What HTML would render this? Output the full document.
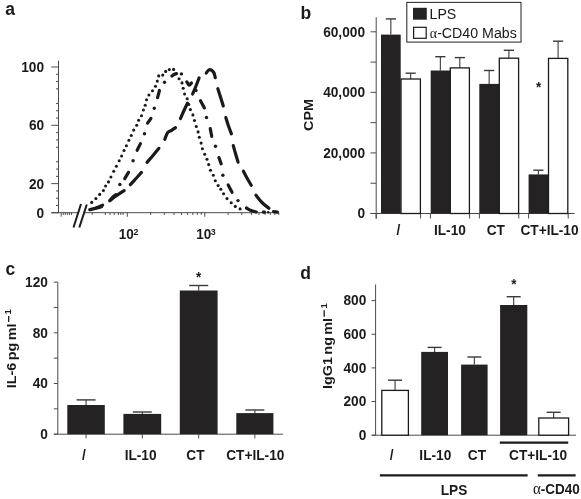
<!DOCTYPE html>
<html><head><meta charset="utf-8"><style>
html,body{margin:0;padding:0;background:#fff;}
body{width:581px;height:499px;overflow:hidden;}
svg{display:block;will-change:transform;}
</style></head><body>
<svg width="581" height="499" viewBox="0 0 581 499">
<rect width="581" height="499" fill="#fff"/>
<text transform="translate(5.20,14.80) scale(1,1.05)" font-family='"Liberation Sans", sans-serif' font-size="17.5" font-weight="bold" text-anchor="start" fill="#1a1a1a" >a</text>
<line x1="58.50" y1="60.60" x2="58.50" y2="213.20" stroke="#4a4a4a" stroke-width="1.0" />
<line x1="51.30" y1="212.80" x2="58.50" y2="212.80" stroke="#4a4a4a" stroke-width="1.0" />
<line x1="51.30" y1="183.64" x2="58.50" y2="183.64" stroke="#4a4a4a" stroke-width="1.0" />
<line x1="51.30" y1="125.32" x2="58.50" y2="125.32" stroke="#4a4a4a" stroke-width="1.0" />
<line x1="51.30" y1="67.00" x2="58.50" y2="67.00" stroke="#4a4a4a" stroke-width="1.0" />
<line x1="56.00" y1="205.51" x2="58.50" y2="205.51" stroke="#4a4a4a" stroke-width="1.0" />
<line x1="56.00" y1="198.22" x2="58.50" y2="198.22" stroke="#4a4a4a" stroke-width="1.0" />
<line x1="56.00" y1="190.93" x2="58.50" y2="190.93" stroke="#4a4a4a" stroke-width="1.0" />
<line x1="56.00" y1="176.35" x2="58.50" y2="176.35" stroke="#4a4a4a" stroke-width="1.0" />
<line x1="56.00" y1="169.06" x2="58.50" y2="169.06" stroke="#4a4a4a" stroke-width="1.0" />
<line x1="56.00" y1="161.77" x2="58.50" y2="161.77" stroke="#4a4a4a" stroke-width="1.0" />
<line x1="56.00" y1="147.19" x2="58.50" y2="147.19" stroke="#4a4a4a" stroke-width="1.0" />
<line x1="56.00" y1="139.90" x2="58.50" y2="139.90" stroke="#4a4a4a" stroke-width="1.0" />
<line x1="56.00" y1="132.61" x2="58.50" y2="132.61" stroke="#4a4a4a" stroke-width="1.0" />
<line x1="56.00" y1="118.03" x2="58.50" y2="118.03" stroke="#4a4a4a" stroke-width="1.0" />
<line x1="56.00" y1="110.74" x2="58.50" y2="110.74" stroke="#4a4a4a" stroke-width="1.0" />
<line x1="56.00" y1="103.45" x2="58.50" y2="103.45" stroke="#4a4a4a" stroke-width="1.0" />
<line x1="56.00" y1="88.87" x2="58.50" y2="88.87" stroke="#4a4a4a" stroke-width="1.0" />
<line x1="56.00" y1="81.58" x2="58.50" y2="81.58" stroke="#4a4a4a" stroke-width="1.0" />
<line x1="56.00" y1="74.29" x2="58.50" y2="74.29" stroke="#4a4a4a" stroke-width="1.0" />
<text transform="translate(44.10,217.90) scale(1,1.05)" font-family='"Liberation Sans", sans-serif' font-size="13.7" font-weight="bold" text-anchor="end" fill="#1a1a1a" >0</text>
<text transform="translate(44.10,188.74) scale(1,1.05)" font-family='"Liberation Sans", sans-serif' font-size="13.7" font-weight="bold" text-anchor="end" fill="#1a1a1a" >20</text>
<text transform="translate(44.10,130.42) scale(1,1.05)" font-family='"Liberation Sans", sans-serif' font-size="13.7" font-weight="bold" text-anchor="end" fill="#1a1a1a" >60</text>
<text transform="translate(44.10,72.10) scale(1,1.05)" font-family='"Liberation Sans", sans-serif' font-size="13.7" font-weight="bold" text-anchor="end" fill="#1a1a1a" >100</text>
<line x1="51.30" y1="212.70" x2="279.00" y2="212.70" stroke="#4a4a4a" stroke-width="1.0" />
<line x1="61.20" y1="212.70" x2="61.20" y2="216.70" stroke="#4a4a4a" stroke-width="1.0" />
<line x1="127.30" y1="212.70" x2="127.30" y2="216.70" stroke="#4a4a4a" stroke-width="1.0" />
<line x1="204.80" y1="212.70" x2="204.80" y2="216.70" stroke="#4a4a4a" stroke-width="1.0" />
<line x1="63.30" y1="212.70" x2="63.30" y2="214.90" stroke="#4a4a4a" stroke-width="1.0" />
<line x1="65.30" y1="212.70" x2="65.30" y2="214.90" stroke="#4a4a4a" stroke-width="1.0" />
<line x1="67.40" y1="212.70" x2="67.40" y2="214.90" stroke="#4a4a4a" stroke-width="1.0" />
<line x1="69.50" y1="212.70" x2="69.50" y2="214.90" stroke="#4a4a4a" stroke-width="1.0" />
<line x1="71.50" y1="212.70" x2="71.50" y2="214.90" stroke="#4a4a4a" stroke-width="1.0" />
<line x1="92.20" y1="212.70" x2="92.20" y2="214.90" stroke="#4a4a4a" stroke-width="1.0" />
<line x1="105.30" y1="212.70" x2="105.30" y2="214.90" stroke="#4a4a4a" stroke-width="1.0" />
<line x1="110.00" y1="212.70" x2="110.00" y2="214.90" stroke="#4a4a4a" stroke-width="1.0" />
<line x1="114.20" y1="212.70" x2="114.20" y2="214.90" stroke="#4a4a4a" stroke-width="1.0" />
<line x1="118.40" y1="212.70" x2="118.40" y2="214.90" stroke="#4a4a4a" stroke-width="1.0" />
<line x1="120.80" y1="212.70" x2="120.80" y2="214.90" stroke="#4a4a4a" stroke-width="1.0" />
<line x1="123.10" y1="212.70" x2="123.10" y2="214.90" stroke="#4a4a4a" stroke-width="1.0" />
<line x1="150.63" y1="212.70" x2="150.63" y2="214.90" stroke="#4a4a4a" stroke-width="1.0" />
<line x1="228.13" y1="212.70" x2="228.13" y2="214.90" stroke="#4a4a4a" stroke-width="1.0" />
<line x1="164.28" y1="212.70" x2="164.28" y2="214.90" stroke="#4a4a4a" stroke-width="1.0" />
<line x1="241.78" y1="212.70" x2="241.78" y2="214.90" stroke="#4a4a4a" stroke-width="1.0" />
<line x1="173.96" y1="212.70" x2="173.96" y2="214.90" stroke="#4a4a4a" stroke-width="1.0" />
<line x1="251.46" y1="212.70" x2="251.46" y2="214.90" stroke="#4a4a4a" stroke-width="1.0" />
<line x1="181.47" y1="212.70" x2="181.47" y2="214.90" stroke="#4a4a4a" stroke-width="1.0" />
<line x1="258.97" y1="212.70" x2="258.97" y2="214.90" stroke="#4a4a4a" stroke-width="1.0" />
<line x1="187.61" y1="212.70" x2="187.61" y2="214.90" stroke="#4a4a4a" stroke-width="1.0" />
<line x1="265.11" y1="212.70" x2="265.11" y2="214.90" stroke="#4a4a4a" stroke-width="1.0" />
<line x1="192.80" y1="212.70" x2="192.80" y2="214.90" stroke="#4a4a4a" stroke-width="1.0" />
<line x1="270.30" y1="212.70" x2="270.30" y2="214.90" stroke="#4a4a4a" stroke-width="1.0" />
<line x1="197.29" y1="212.70" x2="197.29" y2="214.90" stroke="#4a4a4a" stroke-width="1.0" />
<line x1="274.79" y1="212.70" x2="274.79" y2="214.90" stroke="#4a4a4a" stroke-width="1.0" />
<line x1="201.25" y1="212.70" x2="201.25" y2="214.90" stroke="#4a4a4a" stroke-width="1.0" />
<line x1="278.75" y1="212.70" x2="278.75" y2="214.90" stroke="#4a4a4a" stroke-width="1.0" />
<polygon points="81,204 86.5,204.5 79,227 73.5,227" fill="#fff"/>
<line x1="81.00" y1="204.00" x2="73.50" y2="227.50" stroke="#1a1a1a" stroke-width="2.0" />
<line x1="86.80" y1="204.50" x2="79.30" y2="227.50" stroke="#1a1a1a" stroke-width="2.0" />
<text transform="translate(118.80,238.80) scale(1,1.05)" font-family='"Liberation Sans", sans-serif' font-size="13.5" font-weight="bold" text-anchor="start" fill="#1a1a1a" >10</text>
<text transform="translate(133.40,235.00) scale(1,1.05)" font-family='"Liberation Sans", sans-serif' font-size="8.8" font-weight="bold" text-anchor="start" fill="#1a1a1a" >2</text>
<text transform="translate(196.20,238.80) scale(1,1.05)" font-family='"Liberation Sans", sans-serif' font-size="13.5" font-weight="bold" text-anchor="start" fill="#1a1a1a" >10</text>
<text transform="translate(210.70,235.00) scale(1,1.05)" font-family='"Liberation Sans", sans-serif' font-size="8.8" font-weight="bold" text-anchor="start" fill="#1a1a1a" >3</text>
<circle cx="91.70" cy="202.40" r="1.55" fill="#1a1a1a"/>
<circle cx="95.90" cy="198.60" r="1.55" fill="#1a1a1a"/>
<circle cx="99.70" cy="194.40" r="1.55" fill="#1a1a1a"/>
<circle cx="103.40" cy="190.50" r="1.55" fill="#1a1a1a"/>
<circle cx="105.60" cy="186.00" r="1.55" fill="#1a1a1a"/>
<circle cx="108.50" cy="181.90" r="1.55" fill="#1a1a1a"/>
<circle cx="110.90" cy="177.00" r="1.55" fill="#1a1a1a"/>
<circle cx="113.70" cy="171.20" r="1.55" fill="#1a1a1a"/>
<circle cx="116.40" cy="166.30" r="1.55" fill="#1a1a1a"/>
<circle cx="119.20" cy="160.80" r="1.55" fill="#1a1a1a"/>
<circle cx="121.60" cy="156.00" r="1.55" fill="#1a1a1a"/>
<circle cx="124.00" cy="150.50" r="1.55" fill="#1a1a1a"/>
<circle cx="126.40" cy="145.70" r="1.55" fill="#1a1a1a"/>
<circle cx="128.90" cy="140.30" r="1.55" fill="#1a1a1a"/>
<circle cx="131.30" cy="135.50" r="1.55" fill="#1a1a1a"/>
<circle cx="133.70" cy="130.10" r="1.55" fill="#1a1a1a"/>
<circle cx="136.70" cy="125.20" r="1.55" fill="#1a1a1a"/>
<circle cx="138.60" cy="120.20" r="1.55" fill="#1a1a1a"/>
<circle cx="141.50" cy="115.80" r="1.55" fill="#1a1a1a"/>
<circle cx="143.40" cy="110.00" r="1.55" fill="#1a1a1a"/>
<circle cx="145.20" cy="105.20" r="1.55" fill="#1a1a1a"/>
<circle cx="146.60" cy="99.80" r="1.55" fill="#1a1a1a"/>
<circle cx="148.90" cy="95.00" r="1.55" fill="#1a1a1a"/>
<circle cx="152.50" cy="90.70" r="1.55" fill="#1a1a1a"/>
<circle cx="155.50" cy="86.30" r="1.55" fill="#1a1a1a"/>
<circle cx="157.30" cy="81.10" r="1.55" fill="#1a1a1a"/>
<circle cx="158.70" cy="75.90" r="1.55" fill="#1a1a1a"/>
<circle cx="162.70" cy="75.10" r="1.55" fill="#1a1a1a"/>
<circle cx="165.70" cy="71.40" r="1.55" fill="#1a1a1a"/>
<circle cx="169.30" cy="69.60" r="1.55" fill="#1a1a1a"/>
<circle cx="173.60" cy="69.40" r="1.55" fill="#1a1a1a"/>
<circle cx="176.60" cy="73.60" r="1.55" fill="#1a1a1a"/>
<circle cx="179.00" cy="78.70" r="1.55" fill="#1a1a1a"/>
<circle cx="182.00" cy="82.90" r="1.55" fill="#1a1a1a"/>
<circle cx="183.20" cy="88.30" r="1.55" fill="#1a1a1a"/>
<circle cx="184.60" cy="94.00" r="1.55" fill="#1a1a1a"/>
<circle cx="187.20" cy="98.70" r="1.55" fill="#1a1a1a"/>
<circle cx="188.70" cy="104.40" r="1.55" fill="#1a1a1a"/>
<circle cx="190.40" cy="109.60" r="1.55" fill="#1a1a1a"/>
<circle cx="192.90" cy="114.90" r="1.55" fill="#1a1a1a"/>
<circle cx="194.50" cy="120.50" r="1.55" fill="#1a1a1a"/>
<circle cx="196.30" cy="126.50" r="1.55" fill="#1a1a1a"/>
<circle cx="198.10" cy="131.90" r="1.55" fill="#1a1a1a"/>
<circle cx="199.30" cy="137.30" r="1.55" fill="#1a1a1a"/>
<circle cx="201.10" cy="143.10" r="1.55" fill="#1a1a1a"/>
<circle cx="202.40" cy="148.70" r="1.55" fill="#1a1a1a"/>
<circle cx="204.70" cy="154.20" r="1.55" fill="#1a1a1a"/>
<circle cx="207.00" cy="159.20" r="1.55" fill="#1a1a1a"/>
<circle cx="208.70" cy="164.60" r="1.55" fill="#1a1a1a"/>
<circle cx="210.50" cy="170.30" r="1.55" fill="#1a1a1a"/>
<circle cx="213.30" cy="175.20" r="1.55" fill="#1a1a1a"/>
<circle cx="215.30" cy="180.70" r="1.55" fill="#1a1a1a"/>
<circle cx="218.10" cy="185.50" r="1.55" fill="#1a1a1a"/>
<circle cx="220.80" cy="189.20" r="1.55" fill="#1a1a1a"/>
<circle cx="223.60" cy="193.70" r="1.55" fill="#1a1a1a"/>
<circle cx="227.00" cy="198.60" r="1.55" fill="#1a1a1a"/>
<circle cx="231.20" cy="202.70" r="1.55" fill="#1a1a1a"/>
<circle cx="235.30" cy="206.40" r="1.55" fill="#1a1a1a"/>
<circle cx="240.10" cy="208.90" r="1.55" fill="#1a1a1a"/>
<path d="M89.77,209.65 C90.64,209.44 93.04,208.89 95.00,208.40 C96.96,207.91 100.45,206.97 101.54,206.68" fill="none" stroke="#1a1a1a" stroke-width="3.2" stroke-linecap="round" stroke-linejoin="round"/>
<path d="M109.68,200.74 C110.73,199.95 113.58,197.69 116.00,196.00 C118.42,194.31 122.82,191.50 124.18,190.61" fill="none" stroke="#1a1a1a" stroke-width="3.2" stroke-linecap="round" stroke-linejoin="round"/>
<path d="M130.34,184.69 C131.29,183.66 134.15,180.54 136.00,178.50 C137.85,176.46 140.55,173.43 141.46,172.42" fill="none" stroke="#1a1a1a" stroke-width="3.2" stroke-linecap="round" stroke-linejoin="round"/>
<path d="M147.02,162.37 C148.02,161.23 151.02,157.84 153.00,155.50 C154.98,153.16 157.92,149.54 158.90,148.35" fill="none" stroke="#1a1a1a" stroke-width="3.2" stroke-linecap="round" stroke-linejoin="round"/>
<path d="M164.82,139.28 C165.29,138.17 166.47,134.10 167.60,132.60 C168.73,131.10 170.28,131.13 171.60,130.30 C172.92,129.47 174.84,128.07 175.49,127.62" fill="none" stroke="#1a1a1a" stroke-width="3.2" stroke-linecap="round" stroke-linejoin="round"/>
<path d="M180.45,118.49 C181.04,117.16 182.82,113.05 184.00,110.50 C185.18,107.95 186.94,104.41 187.52,103.19" fill="none" stroke="#1a1a1a" stroke-width="3.2" stroke-linecap="round" stroke-linejoin="round"/>
<path d="M192.63,93.99 C193.19,92.66 194.92,88.68 196.00,86.00 C197.08,83.32 198.59,79.27 199.11,77.93" fill="none" stroke="#1a1a1a" stroke-width="3.2" stroke-linecap="round" stroke-linejoin="round"/>
<path d="M206.26,73.00 C206.80,72.44 208.28,69.73 209.50,69.60 C210.72,69.47 212.64,70.86 213.60,72.20 C214.56,73.54 215.00,76.74 215.28,77.65" fill="none" stroke="#1a1a1a" stroke-width="3.2" stroke-linecap="round" stroke-linejoin="round"/>
<path d="M217.84,88.75 C218.28,90.12 219.59,94.13 220.50,97.00 C221.41,99.87 222.81,104.46 223.27,105.95" fill="none" stroke="#1a1a1a" stroke-width="3.2" stroke-linecap="round" stroke-linejoin="round"/>
<path d="M225.83,117.55 C226.28,118.96 227.57,123.28 228.50,126.00 C229.43,128.72 230.93,132.56 231.42,133.87" fill="none" stroke="#1a1a1a" stroke-width="3.2" stroke-linecap="round" stroke-linejoin="round"/>
<path d="M233.29,145.56 C233.66,146.88 234.70,150.74 235.50,153.50 C236.30,156.26 237.65,160.71 238.08,162.15" fill="none" stroke="#1a1a1a" stroke-width="3.2" stroke-linecap="round" stroke-linejoin="round"/>
<path d="M243.42,171.27 C244.01,172.39 245.70,175.67 247.00,178.00 C248.30,180.33 250.54,184.04 251.24,185.25" fill="none" stroke="#1a1a1a" stroke-width="3.2" stroke-linecap="round" stroke-linejoin="round"/>
<path d="M256.00,195.25 C257.00,196.46 259.86,200.34 262.00,202.50 C264.14,204.66 267.71,207.25 268.85,208.20" fill="none" stroke="#1a1a1a" stroke-width="3.2" stroke-linecap="round" stroke-linejoin="round"/>
<path d="M273.59,211.55 L277.41,212.05" fill="none" stroke="#1a1a1a" stroke-width="3.2" stroke-linecap="round" stroke-linejoin="round"/>
<path d="M263.30,212.10 L264.50,212.20" fill="none" stroke="#1a1a1a" stroke-width="3.2" stroke-linecap="round" stroke-linejoin="round"/>
<path d="M96.92,207.61 L102.58,205.19" fill="none" stroke="#1a1a1a" stroke-width="3.2" stroke-linecap="round" stroke-linejoin="round"/>
<path d="M110.18,200.06 C110.65,199.55 112.07,197.90 113.00,197.00 C113.93,196.10 115.28,195.04 115.74,194.65" fill="none" stroke="#1a1a1a" stroke-width="3.2" stroke-linecap="round" stroke-linejoin="round"/>
<path d="M124.72,178.65 L128.48,172.45" fill="none" stroke="#1a1a1a" stroke-width="3.2" stroke-linecap="round" stroke-linejoin="round"/>
<path d="M137.15,150.21 L140.45,143.59" fill="none" stroke="#1a1a1a" stroke-width="3.2" stroke-linecap="round" stroke-linejoin="round"/>
<path d="M147.57,123.18 L150.93,118.32" fill="none" stroke="#1a1a1a" stroke-width="3.2" stroke-linecap="round" stroke-linejoin="round"/>
<path d="M157.56,97.63 L159.44,90.47" fill="none" stroke="#1a1a1a" stroke-width="3.2" stroke-linecap="round" stroke-linejoin="round"/>
<path d="M171.91,76.01 C172.26,75.76 173.34,74.87 174.00,74.50 C174.66,74.13 175.56,73.89 175.87,73.77" fill="none" stroke="#1a1a1a" stroke-width="3.2" stroke-linecap="round" stroke-linejoin="round"/>
<path d="M186.80,81.90 C187.20,82.43 188.42,84.92 189.20,85.10 C189.98,85.28 191.09,83.34 191.47,82.98" fill="none" stroke="#1a1a1a" stroke-width="3.2" stroke-linecap="round" stroke-linejoin="round"/>
<path d="M200.48,100.68 L204.42,107.92" fill="none" stroke="#1a1a1a" stroke-width="3.2" stroke-linecap="round" stroke-linejoin="round"/>
<path d="M210.28,128.68 L211.72,136.32" fill="none" stroke="#1a1a1a" stroke-width="3.2" stroke-linecap="round" stroke-linejoin="round"/>
<path d="M218.93,157.54 L221.17,163.86" fill="none" stroke="#1a1a1a" stroke-width="3.2" stroke-linecap="round" stroke-linejoin="round"/>
<path d="M228.17,184.98 L232.03,192.22" fill="none" stroke="#1a1a1a" stroke-width="3.2" stroke-linecap="round" stroke-linejoin="round"/>
<path d="M246.47,207.99 C247.23,208.40 249.36,209.84 251.00,210.50 C252.64,211.16 255.45,211.70 256.33,211.94" fill="none" stroke="#1a1a1a" stroke-width="3.2" stroke-linecap="round" stroke-linejoin="round"/>
<circle cx="119.90" cy="184.50" r="1.7" fill="#1a1a1a"/>
<circle cx="133.10" cy="160.80" r="1.7" fill="#1a1a1a"/>
<circle cx="144.50" cy="133.70" r="1.7" fill="#1a1a1a"/>
<circle cx="154.30" cy="108.20" r="1.7" fill="#1a1a1a"/>
<circle cx="164.50" cy="82.30" r="1.7" fill="#1a1a1a"/>
<circle cx="181.40" cy="73.90" r="1.7" fill="#1a1a1a"/>
<circle cx="196.00" cy="90.50" r="1.7" fill="#1a1a1a"/>
<circle cx="206.50" cy="117.50" r="1.7" fill="#1a1a1a"/>
<circle cx="215.50" cy="146.30" r="1.7" fill="#1a1a1a"/>
<circle cx="222.90" cy="175.20" r="1.7" fill="#1a1a1a"/>
<circle cx="238.00" cy="200.60" r="1.7" fill="#1a1a1a"/>
<circle cx="268.20" cy="212.30" r="1.2" fill="#1a1a1a"/>
<text transform="translate(300.60,19.00) scale(1,1.05)" font-family='"Liberation Sans", sans-serif' font-size="17.5" font-weight="bold" text-anchor="start" fill="#1a1a1a" >b</text>
<line x1="376.20" y1="17.20" x2="376.20" y2="218.80" stroke="#4a4a4a" stroke-width="1.0" />
<line x1="370.50" y1="213.50" x2="376.20" y2="213.50" stroke="#4a4a4a" stroke-width="1.0" />
<line x1="370.50" y1="152.93" x2="376.20" y2="152.93" stroke="#4a4a4a" stroke-width="1.0" />
<line x1="370.50" y1="92.37" x2="376.20" y2="92.37" stroke="#4a4a4a" stroke-width="1.0" />
<line x1="370.50" y1="31.80" x2="376.20" y2="31.80" stroke="#4a4a4a" stroke-width="1.0" />
<line x1="370.50" y1="183.22" x2="376.20" y2="183.22" stroke="#4a4a4a" stroke-width="1.0" />
<line x1="370.50" y1="122.65" x2="376.20" y2="122.65" stroke="#4a4a4a" stroke-width="1.0" />
<line x1="370.50" y1="62.08" x2="376.20" y2="62.08" stroke="#4a4a4a" stroke-width="1.0" />
<text transform="translate(365.00,218.30) scale(1,1.05)" font-family='"Liberation Sans", sans-serif' font-size="13.7" font-weight="bold" text-anchor="end" fill="#1a1a1a" >0</text>
<text transform="translate(365.00,157.73) scale(1,1.05)" font-family='"Liberation Sans", sans-serif' font-size="13.7" font-weight="bold" text-anchor="end" fill="#1a1a1a" >20,000</text>
<text transform="translate(365.00,97.17) scale(1,1.05)" font-family='"Liberation Sans", sans-serif' font-size="13.7" font-weight="bold" text-anchor="end" fill="#1a1a1a" >40,000</text>
<text transform="translate(365.00,36.60) scale(1,1.05)" font-family='"Liberation Sans", sans-serif' font-size="13.7" font-weight="bold" text-anchor="end" fill="#1a1a1a" >60,000</text>
<line x1="370.50" y1="213.50" x2="574.60" y2="213.50" stroke="#4a4a4a" stroke-width="1.0" />
<line x1="376.20" y1="213.50" x2="376.20" y2="218.50" stroke="#4a4a4a" stroke-width="1.0" />
<line x1="420.60" y1="213.50" x2="420.60" y2="218.50" stroke="#4a4a4a" stroke-width="1.0" />
<line x1="430.40" y1="213.50" x2="430.40" y2="218.50" stroke="#4a4a4a" stroke-width="1.0" />
<line x1="469.60" y1="213.50" x2="469.60" y2="218.50" stroke="#4a4a4a" stroke-width="1.0" />
<line x1="479.40" y1="213.50" x2="479.40" y2="218.50" stroke="#4a4a4a" stroke-width="1.0" />
<line x1="518.80" y1="213.50" x2="518.80" y2="218.50" stroke="#4a4a4a" stroke-width="1.0" />
<line x1="528.60" y1="213.50" x2="528.60" y2="218.50" stroke="#4a4a4a" stroke-width="1.0" />
<line x1="568.20" y1="213.50" x2="568.20" y2="218.50" stroke="#4a4a4a" stroke-width="1.0" />
<text transform="translate(313.0,115) scale(1,1.05) rotate(-90)" font-family='"Liberation Sans", sans-serif' font-size="13.7" font-weight="bold" text-anchor="middle" fill="#1a1a1a">CPM</text>
<line x1="390.85" y1="18.90" x2="390.85" y2="34.60" stroke="#3a3a3a" stroke-width="1.1" />
<line x1="385.75" y1="18.90" x2="395.95" y2="18.90" stroke="#3a3a3a" stroke-width="1.4" />
<rect x="381.00" y="34.60" width="19.70" height="178.90" fill="#252223"/>
<line x1="410.65" y1="73.20" x2="410.65" y2="79.00" stroke="#3a3a3a" stroke-width="1.1" />
<line x1="405.55" y1="73.20" x2="415.75" y2="73.20" stroke="#3a3a3a" stroke-width="1.4" />
<rect x="401.00" y="79.00" width="19.40" height="134.50" fill="#fff" stroke="#1a1a1a" stroke-width="1.3"/>
<line x1="440.35" y1="56.70" x2="440.35" y2="70.50" stroke="#3a3a3a" stroke-width="1.1" />
<line x1="435.25" y1="56.70" x2="445.45" y2="56.70" stroke="#3a3a3a" stroke-width="1.4" />
<rect x="430.70" y="70.50" width="19.30" height="143.00" fill="#252223"/>
<line x1="459.80" y1="57.60" x2="459.80" y2="67.90" stroke="#3a3a3a" stroke-width="1.1" />
<line x1="454.70" y1="57.60" x2="464.90" y2="57.60" stroke="#3a3a3a" stroke-width="1.4" />
<rect x="450.30" y="67.90" width="19.10" height="145.60" fill="#fff" stroke="#1a1a1a" stroke-width="1.3"/>
<line x1="489.15" y1="70.50" x2="489.15" y2="83.90" stroke="#3a3a3a" stroke-width="1.1" />
<line x1="484.05" y1="70.50" x2="494.25" y2="70.50" stroke="#3a3a3a" stroke-width="1.4" />
<rect x="479.30" y="83.90" width="19.70" height="129.60" fill="#252223"/>
<line x1="508.90" y1="50.30" x2="508.90" y2="58.20" stroke="#3a3a3a" stroke-width="1.1" />
<line x1="503.80" y1="50.30" x2="514.00" y2="50.30" stroke="#3a3a3a" stroke-width="1.4" />
<rect x="499.30" y="58.20" width="19.30" height="155.30" fill="#fff" stroke="#1a1a1a" stroke-width="1.3"/>
<line x1="538.40" y1="170.20" x2="538.40" y2="174.40" stroke="#3a3a3a" stroke-width="1.1" />
<line x1="533.30" y1="170.20" x2="543.50" y2="170.20" stroke="#3a3a3a" stroke-width="1.4" />
<rect x="528.60" y="174.40" width="19.60" height="39.10" fill="#252223"/>
<line x1="558.10" y1="41.20" x2="558.10" y2="58.40" stroke="#3a3a3a" stroke-width="1.1" />
<line x1="553.00" y1="41.20" x2="563.20" y2="41.20" stroke="#3a3a3a" stroke-width="1.4" />
<rect x="548.50" y="58.40" width="19.30" height="155.10" fill="#fff" stroke="#1a1a1a" stroke-width="1.3"/>
<rect x="406.8" y="2.4" width="114.2" height="39.7" fill="#fff" stroke="#333" stroke-width="1.1"/>
<rect x="413" y="7.8" width="13.8" height="11.9" fill="#252223"/>
<rect x="413.6" y="27.3" width="12.6" height="11.0" fill="#fff" stroke="#1a1a1a" stroke-width="1.2"/>
<text transform="translate(429.50,19.20) scale(1,1.05)" font-family='"Liberation Sans", sans-serif' font-size="14.2" font-weight="normal" text-anchor="start" fill="#1a1a1a" >LPS</text>
<text transform="translate(429.8,37.9) scale(1,1.05)" font-family='"Liberation Sans", sans-serif' font-size="14.2" fill="#1a1a1a"><tspan font-family='"Liberation Serif", serif' font-size="14">α</tspan>-CD40 Mabs</text>
<text transform="translate(538.70,92.40) scale(1,1.05)" font-family='"Liberation Sans", sans-serif' font-size="13.5" font-weight="bold" text-anchor="middle" fill="#1a1a1a" >*</text>
<text transform="translate(398.40,235.40) scale(1,1.05)" font-family='"Liberation Sans", sans-serif' font-size="13.7" font-weight="bold" text-anchor="middle" fill="#1a1a1a" >/</text>
<text transform="translate(449.90,235.40) scale(1,1.05)" font-family='"Liberation Sans", sans-serif' font-size="13.7" font-weight="bold" text-anchor="middle" fill="#1a1a1a" >IL-10</text>
<text transform="translate(495.80,235.40) scale(1,1.05)" font-family='"Liberation Sans", sans-serif' font-size="13.7" font-weight="bold" text-anchor="middle" fill="#1a1a1a" >CT</text>
<text transform="translate(549.50,235.40) scale(1,1.05)" font-family='"Liberation Sans", sans-serif' font-size="13.7" font-weight="bold" text-anchor="middle" fill="#1a1a1a" >CT+IL-10</text>
<text transform="translate(5.40,275.20) scale(1,1.05)" font-family='"Liberation Sans", sans-serif' font-size="17.5" font-weight="bold" text-anchor="start" fill="#1a1a1a" >c</text>
<line x1="57.80" y1="282.10" x2="57.80" y2="434.20" stroke="#4a4a4a" stroke-width="1.0" />
<line x1="53.80" y1="434.20" x2="57.80" y2="434.20" stroke="#4a4a4a" stroke-width="1.0" />
<line x1="53.80" y1="383.50" x2="57.80" y2="383.50" stroke="#4a4a4a" stroke-width="1.0" />
<line x1="53.80" y1="332.80" x2="57.80" y2="332.80" stroke="#4a4a4a" stroke-width="1.0" />
<line x1="53.80" y1="282.10" x2="57.80" y2="282.10" stroke="#4a4a4a" stroke-width="1.0" />
<line x1="53.80" y1="408.85" x2="57.80" y2="408.85" stroke="#4a4a4a" stroke-width="1.0" />
<line x1="53.80" y1="358.15" x2="57.80" y2="358.15" stroke="#4a4a4a" stroke-width="1.0" />
<line x1="53.80" y1="307.45" x2="57.80" y2="307.45" stroke="#4a4a4a" stroke-width="1.0" />
<text transform="translate(47.90,439.00) scale(1,1.05)" font-family='"Liberation Sans", sans-serif' font-size="13.7" font-weight="bold" text-anchor="end" fill="#1a1a1a" >0</text>
<text transform="translate(47.90,388.30) scale(1,1.05)" font-family='"Liberation Sans", sans-serif' font-size="13.7" font-weight="bold" text-anchor="end" fill="#1a1a1a" >40</text>
<text transform="translate(47.90,337.60) scale(1,1.05)" font-family='"Liberation Sans", sans-serif' font-size="13.7" font-weight="bold" text-anchor="end" fill="#1a1a1a" >80</text>
<text transform="translate(47.90,286.90) scale(1,1.05)" font-family='"Liberation Sans", sans-serif' font-size="13.7" font-weight="bold" text-anchor="end" fill="#1a1a1a" >120</text>
<line x1="53.80" y1="434.20" x2="282.90" y2="434.20" stroke="#4a4a4a" stroke-width="1.0" />
<line x1="86.05" y1="434.20" x2="86.05" y2="438.40" stroke="#4a4a4a" stroke-width="1.0" />
<line x1="86.05" y1="399.90" x2="86.05" y2="405.00" stroke="#3a3a3a" stroke-width="1.1" />
<line x1="76.55" y1="399.90" x2="95.55" y2="399.90" stroke="#3a3a3a" stroke-width="1.4" />
<rect x="67.30" y="405.00" width="37.50" height="29.20" fill="#252223"/>
<line x1="142.30" y1="434.20" x2="142.30" y2="438.40" stroke="#4a4a4a" stroke-width="1.0" />
<line x1="142.30" y1="412.00" x2="142.30" y2="413.90" stroke="#3a3a3a" stroke-width="1.1" />
<line x1="132.80" y1="412.00" x2="151.80" y2="412.00" stroke="#3a3a3a" stroke-width="1.4" />
<rect x="123.40" y="413.90" width="37.80" height="20.30" fill="#252223"/>
<line x1="198.70" y1="434.20" x2="198.70" y2="438.40" stroke="#4a4a4a" stroke-width="1.0" />
<line x1="198.70" y1="285.50" x2="198.70" y2="290.50" stroke="#3a3a3a" stroke-width="1.1" />
<line x1="189.20" y1="285.50" x2="208.20" y2="285.50" stroke="#3a3a3a" stroke-width="1.4" />
<rect x="179.80" y="290.50" width="37.80" height="143.70" fill="#252223"/>
<line x1="254.85" y1="434.20" x2="254.85" y2="438.40" stroke="#4a4a4a" stroke-width="1.0" />
<line x1="254.85" y1="410.00" x2="254.85" y2="413.10" stroke="#3a3a3a" stroke-width="1.1" />
<line x1="245.35" y1="410.00" x2="264.35" y2="410.00" stroke="#3a3a3a" stroke-width="1.4" />
<rect x="236.30" y="413.10" width="37.10" height="21.10" fill="#252223"/>
<text transform="translate(198.60,281.80) scale(1,1.05)" font-family='"Liberation Sans", sans-serif' font-size="13.5" font-weight="bold" text-anchor="middle" fill="#1a1a1a" >*</text>
<text transform="translate(83.80,459.80) scale(1,1.05)" font-family='"Liberation Sans", sans-serif' font-size="13.7" font-weight="bold" text-anchor="middle" fill="#1a1a1a" >/</text>
<text transform="translate(140.60,459.80) scale(1,1.05)" font-family='"Liberation Sans", sans-serif' font-size="13.7" font-weight="bold" text-anchor="middle" fill="#1a1a1a" >IL-10</text>
<text transform="translate(195.50,459.80) scale(1,1.05)" font-family='"Liberation Sans", sans-serif' font-size="13.7" font-weight="bold" text-anchor="middle" fill="#1a1a1a" >CT</text>
<text transform="translate(255.30,459.80) scale(1,1.05)" font-family='"Liberation Sans", sans-serif' font-size="13.7" font-weight="bold" text-anchor="middle" fill="#1a1a1a" >CT+IL-10</text>
<g transform="translate(16.3,388.2) scale(1,1.05) rotate(-90)">
<text font-family='"Liberation Sans", sans-serif' font-size="13.7" font-weight="bold" fill="#1a1a1a" word-spacing="-1.5">IL-6 pg ml</text>
<line x1="63.0" y1="-7.6" x2="68.8" y2="-7.6" stroke="#1a1a1a" stroke-width="1.3"/>
<text x="70.2" y="-5.1" font-family='"Liberation Sans", sans-serif' font-size="9.2" font-weight="bold" fill="#1a1a1a">1</text>
</g>
<text transform="translate(300.30,278.70) scale(1,1.05)" font-family='"Liberation Sans", sans-serif' font-size="17.5" font-weight="bold" text-anchor="start" fill="#1a1a1a" >d</text>
<line x1="375.60" y1="284.50" x2="375.60" y2="435.20" stroke="#4a4a4a" stroke-width="1.0" />
<line x1="371.60" y1="435.20" x2="375.60" y2="435.20" stroke="#4a4a4a" stroke-width="1.0" />
<line x1="371.60" y1="401.55" x2="375.60" y2="401.55" stroke="#4a4a4a" stroke-width="1.0" />
<line x1="371.60" y1="367.90" x2="375.60" y2="367.90" stroke="#4a4a4a" stroke-width="1.0" />
<line x1="371.60" y1="334.25" x2="375.60" y2="334.25" stroke="#4a4a4a" stroke-width="1.0" />
<line x1="371.60" y1="300.60" x2="375.60" y2="300.60" stroke="#4a4a4a" stroke-width="1.0" />
<text transform="translate(366.30,440.00) scale(1,1.05)" font-family='"Liberation Sans", sans-serif' font-size="13.7" font-weight="bold" text-anchor="end" fill="#1a1a1a" >0</text>
<text transform="translate(366.30,406.35) scale(1,1.05)" font-family='"Liberation Sans", sans-serif' font-size="13.7" font-weight="bold" text-anchor="end" fill="#1a1a1a" >200</text>
<text transform="translate(366.30,372.70) scale(1,1.05)" font-family='"Liberation Sans", sans-serif' font-size="13.7" font-weight="bold" text-anchor="end" fill="#1a1a1a" >400</text>
<text transform="translate(366.30,339.05) scale(1,1.05)" font-family='"Liberation Sans", sans-serif' font-size="13.7" font-weight="bold" text-anchor="end" fill="#1a1a1a" >600</text>
<text transform="translate(366.30,305.40) scale(1,1.05)" font-family='"Liberation Sans", sans-serif' font-size="13.7" font-weight="bold" text-anchor="end" fill="#1a1a1a" >800</text>
<line x1="371.80" y1="435.20" x2="576.00" y2="435.20" stroke="#4a4a4a" stroke-width="1.0" />
<line x1="395.05" y1="380.20" x2="395.05" y2="390.40" stroke="#3a3a3a" stroke-width="1.1" />
<line x1="388.05" y1="380.20" x2="402.05" y2="380.20" stroke="#3a3a3a" stroke-width="1.4" />
<rect x="381.80" y="390.40" width="26.60" height="44.80" fill="#fff" stroke="#1a1a1a" stroke-width="1.3"/>
<line x1="434.60" y1="347.40" x2="434.60" y2="351.90" stroke="#3a3a3a" stroke-width="1.1" />
<line x1="427.60" y1="347.40" x2="441.60" y2="347.40" stroke="#3a3a3a" stroke-width="1.4" />
<rect x="421.20" y="351.90" width="26.80" height="83.30" fill="#252223"/>
<line x1="474.35" y1="357.00" x2="474.35" y2="364.60" stroke="#3a3a3a" stroke-width="1.1" />
<line x1="467.35" y1="357.00" x2="481.35" y2="357.00" stroke="#3a3a3a" stroke-width="1.4" />
<rect x="461.10" y="364.60" width="26.50" height="70.60" fill="#252223"/>
<line x1="513.70" y1="296.70" x2="513.70" y2="305.00" stroke="#3a3a3a" stroke-width="1.1" />
<line x1="506.70" y1="296.70" x2="520.70" y2="296.70" stroke="#3a3a3a" stroke-width="1.4" />
<rect x="500.10" y="305.00" width="27.20" height="130.20" fill="#252223"/>
<line x1="553.65" y1="412.30" x2="553.65" y2="418.00" stroke="#3a3a3a" stroke-width="1.1" />
<line x1="546.65" y1="412.30" x2="560.65" y2="412.30" stroke="#3a3a3a" stroke-width="1.4" />
<rect x="538.80" y="418.00" width="29.80" height="17.20" fill="#fff" stroke="#1a1a1a" stroke-width="1.3"/>
<text transform="translate(513.80,288.90) scale(1,1.05)" font-family='"Liberation Sans", sans-serif' font-size="13.5" font-weight="bold" text-anchor="middle" fill="#1a1a1a" >*</text>
<text transform="translate(391.60,459.50) scale(1,1.05)" font-family='"Liberation Sans", sans-serif' font-size="13.7" font-weight="bold" text-anchor="middle" fill="#1a1a1a" >/</text>
<text transform="translate(435.30,459.50) scale(1,1.05)" font-family='"Liberation Sans", sans-serif' font-size="13.7" font-weight="bold" text-anchor="middle" fill="#1a1a1a" >IL-10</text>
<text transform="translate(477.00,459.50) scale(1,1.05)" font-family='"Liberation Sans", sans-serif' font-size="13.7" font-weight="bold" text-anchor="middle" fill="#1a1a1a" >CT</text>
<text transform="translate(538.10,459.50) scale(1,1.05)" font-family='"Liberation Sans", sans-serif' font-size="13.7" font-weight="bold" text-anchor="middle" fill="#1a1a1a" >CT+IL-10</text>
<line x1="499.80" y1="442.70" x2="568.20" y2="442.70" stroke="#1a1a1a" stroke-width="2.2" />
<line x1="379.90" y1="475.30" x2="527.60" y2="475.30" stroke="#1a1a1a" stroke-width="2.2" />
<line x1="537.80" y1="475.30" x2="575.60" y2="475.30" stroke="#1a1a1a" stroke-width="2.2" />
<text transform="translate(454.00,495.00) scale(1,1.05)" font-family='"Liberation Sans", sans-serif' font-size="13.7" font-weight="bold" text-anchor="middle" fill="#1a1a1a" >LPS</text>
<text transform="translate(533.0,494.2) scale(1,1.05)" font-family='"Liberation Sans", sans-serif' font-size="13.5" font-weight="bold" fill="#1a1a1a"><tspan font-family='"Liberation Serif", serif' font-weight="normal" font-size="15">α</tspan>-CD40</text>
<g transform="translate(332.4,389.0) scale(1,1.05) rotate(-90)">
<text font-family='"Liberation Sans", sans-serif' font-size="13.7" font-weight="bold" fill="#1a1a1a" word-spacing="-1.5">IgG1 ng ml</text>
<line x1="68.7" y1="-8.2" x2="75.0" y2="-8.2" stroke="#1a1a1a" stroke-width="1.3"/>
<text x="76.6" y="-5.9" font-family='"Liberation Sans", sans-serif' font-size="9.2" font-weight="bold" fill="#1a1a1a">1</text>
</g>
</svg>
</body></html>
